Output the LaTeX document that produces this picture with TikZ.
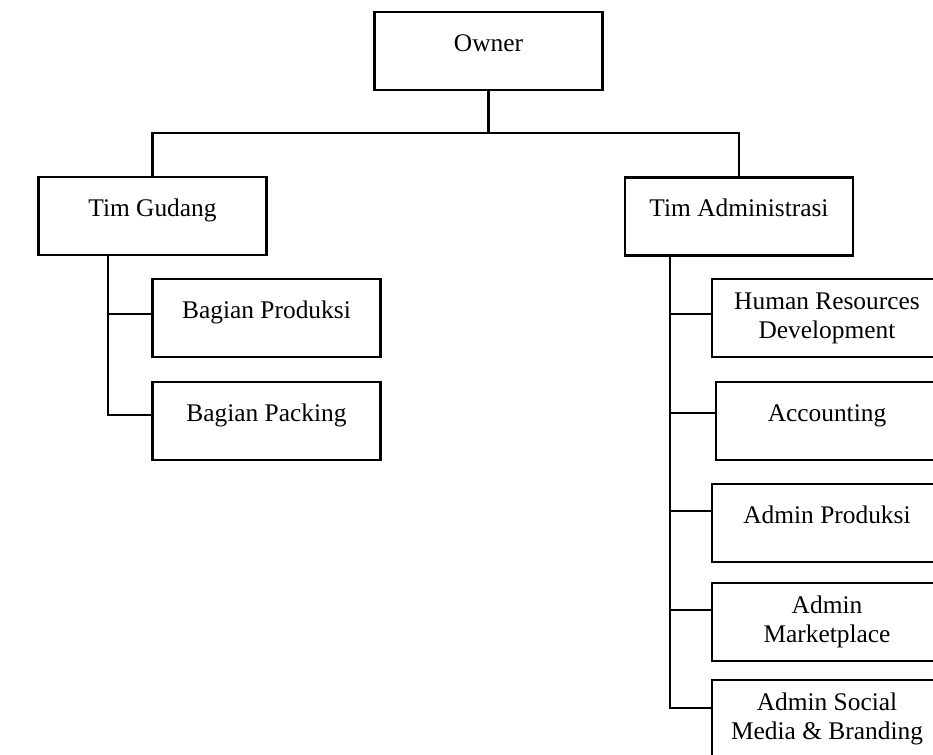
\documentclass[tikz,border=0pt]{standalone}
\usepackage{fontspec}
\setmainfont{Liberation Serif}
\usepackage{tikz}
\usetikzlibrary{positioning}

\begin{document}
\begin{tikzpicture}[
  x=0.5pt, y=-0.5pt,
  font=\fontsize{12.7}{14.5}\selectfont,
  unit/.style={draw, line width=1.3pt, minimum width=114pt,
               minimum height=39pt, align=center, inner sep=0pt},
  oneline/.style={text height=9pt, text depth=9pt},
  link/.style={line width=1.2pt}
]
  \clip (0,0) rectangle (933,755);
  % top level
  \node[unit, oneline] (owner) at (488.5,51) {Owner};
  \node[unit, oneline] (gudang) at (152.5,216) {Tim Gudang};
  \node[unit, oneline] (admin) at (739,216.5) {Tim Administrasi};
  % gudang side
  \node[unit, oneline] (prod) at (266.5,318) {Bagian Produksi};
  \node[unit, oneline, below=11.2pt of prod] (pack) {Bagian Packing};
  % administrasi side
  \node[unit, minimum width=115pt] (hrd) at (827,318) {Human Resources\\Development};
  \node[unit, oneline, minimum width=111pt, below=11.2pt of hrd] (acc) {Accounting};
  \node[unit, oneline, minimum width=115pt, below=10.7pt of acc] (aprod) {Admin Produksi};
  \node[unit, minimum width=115pt, below=9.2pt of aprod] (amkt) {Admin\\Marketplace};
  \node[unit, minimum width=115pt, below=8.2pt of amkt] (asoc) {Admin Social\\Media \& Branding};

  \coordinate (bus) at (488.5,133);
  \coordinate (gtrunk) at (108,255);
  \coordinate (atrunk) at (670,256.5);

  \draw[link] (owner.south) -- (bus);
  \draw[link] (gudang.north) |- (bus) -| (admin.north);
  \draw[link] (gtrunk) |- ([yshift=2pt]prod.west);
  \draw[link] (gtrunk) |- ([yshift=3pt]pack.west);
  \draw[link] (atrunk) |- ([yshift=2pt]hrd.west);
  \draw[link] (atrunk) |- ([yshift=4pt]acc.west);
  \draw[link] (atrunk) |- ([yshift=6pt]aprod.west);
  \draw[link] (atrunk) |- ([yshift=6pt]amkt.west);
  \draw[link] (atrunk) |- ([yshift=5.5pt]asoc.west);
\end{tikzpicture}
\end{document}
